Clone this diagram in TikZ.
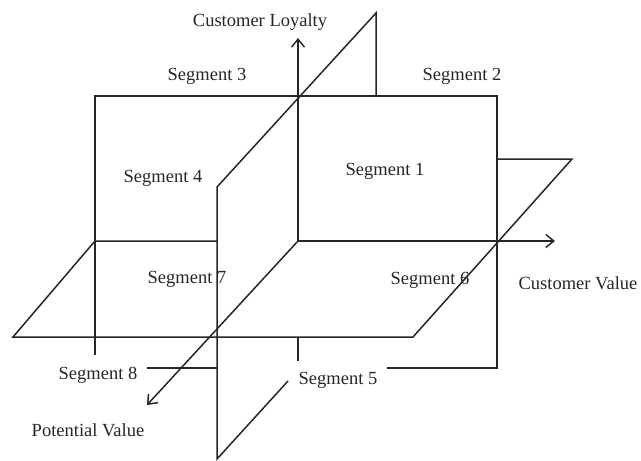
\documentclass[tikz,border=0pt]{standalone}
\usepackage{fontspec}
\setmainfont{Liberation Serif}
\usetikzlibrary{arrows.meta}
\begin{document}
\begin{tikzpicture}[x=1pt,y=-1pt,
  ln/.style={line width=1.5pt, draw=black!85, line join=miter},
  ax/.style={ln, -{Straight Barb[length=8pt,width=13pt,line width=1.5pt]}},
  lab/.style={font=\fontsize{18.5}{20}\selectfont, text=black!85, inner sep=0pt, anchor=base}]
\useasboundingbox (0,0) rectangle (641,461);
% axis origin and axis ends
\coordinate (O) at (298,241);
\coordinate (loyEnd) at (298,38);
\coordinate (valEnd) at (555,241);
\coordinate (potEnd) at (147,405);
% vertical rectangle (loyalty-value plane)
\coordinate (rTL) at (95,96);
\coordinate (rTR) at (497,96);
\coordinate (rBR) at (497,368);
\coordinate (rBLcut) at (95,355);
\coordinate (rB5) at (387,368);
\coordinate (rB8a) at (147,368);
\coordinate (rB8b) at (217,368);
% horizontal plane (value-potential plane)
\coordinate (hI1) at (217,241);
\coordinate (hI2) at (95,241);
\coordinate (hFL) at (13,337);
\coordinate (hFR) at (413,337);
\coordinate (hBR) at (572,159);
\coordinate (hBcut) at (497,159);
% depth plane (loyalty-potential plane)
\coordinate (dBcut) at (376,96);
\coordinate (dBT) at (376,13);
\coordinate (dFT) at (217,187);
\coordinate (dFB) at (217,459);
\coordinate (dBcut2) at (288,381);
% stub of loyalty axis below plane
\coordinate (s1) at (298,337);
\coordinate (s2) at (298,361);

\draw[ln] (rBLcut) -- (rTL) -- (rTR) -- (rBR) -- (rB5);
\draw[ln] (rB8a) -- (rB8b);
\draw[ln] (hI1) -- (hI2) -- (hFL) -- (hFR) -- (hBR) -- (hBcut);
\draw[ln] (dBcut) -- (dBT) -- (dFT) -- (dFB) -- (dBcut2);
\draw[ln] (s1) -- (s2);
\draw[ax] (O) -- (loyEnd);
\draw[ax] (O) -- (valEnd);
\draw[ax] (O) -- (potEnd);

\node[lab] (tLoy) at (260,26) {Customer Loyalty};
\node[lab] (tS3) at (207,80) {Segment 3};
\node[lab] (tS2) at (462,80) {Segment 2};
\node[lab] (tS4) at (163,182) {Segment 4};
\node[lab] (tS1) at (385,175) {Segment 1};
\node[lab] (tS7) at (187,283) {Segment 7};
\node[lab] (tS6) at (430,284) {Segment 6};
\node[lab] (tVal) at (578,289) {Customer Value};
\node[lab] (tS8) at (98,379) {Segment 8};
\node[lab] (tS5) at (338,384) {Segment 5};
\node[lab] (tPot) at (88,436) {Potential Value};
\end{tikzpicture}
\end{document}
